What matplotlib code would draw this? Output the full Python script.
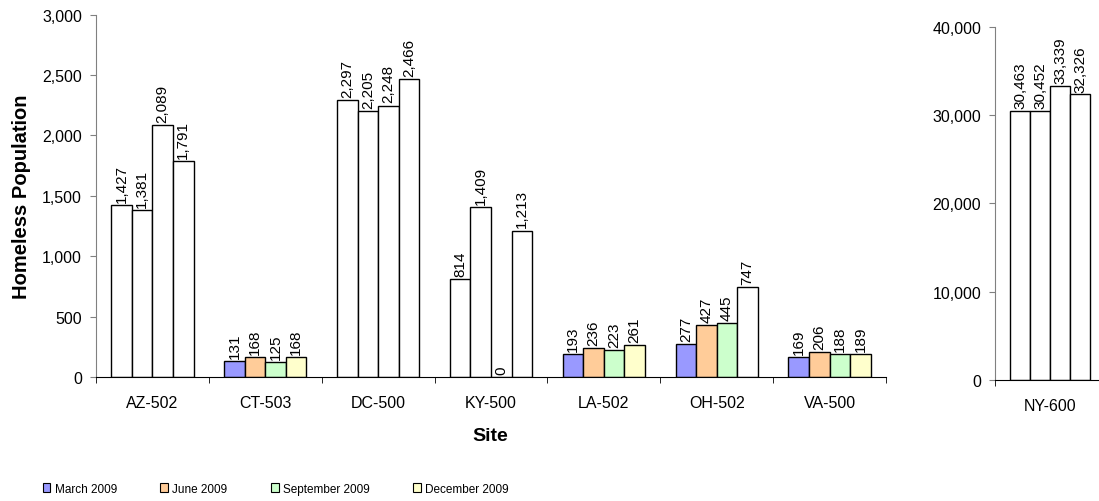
import matplotlib.pyplot as plt
import numpy as np
from matplotlib.patches import Patch
from matplotlib.ticker import FuncFormatter, FixedLocator

plt.rcParams['font.family'] = ['Liberation Sans', 'DejaVu Sans']

# Homeless counts per site and quarter
sites = ['AZ-502', 'CT-503', 'DC-500', 'KY-500', 'LA-502', 'OH-502', 'VA-500']
march = [1427, 131, 2297, 814, 193, 277, 169]
june = [1381, 168, 2205, 1409, 236, 427, 206]
september = [2089, 125, 2248, 0, 223, 445, 188]
december = [1791, 168, 2466, 1213, 261, 747, 189]

ny_site = 'NY-600'
ny_counts = [30463, 30452, 33339, 32326]

quarters = ['March 2009', 'June 2009', 'September 2009', 'December 2009']
colors = ['#9999FF', '#FFCC99', '#CCFFCC', '#FFFFCC']

# which bars get the quarter colour (the rest are drawn hollow)
shaded = {
    'CT-503': [1, 1, 1, 1],
    'LA-502': [1, 1, 1, 1],
    'OH-502': [1, 1, 1, 0],
    'VA-500': [1, 1, 1, 1],
}

W, H = 1099, 502
fig = plt.figure(figsize=(W / 100, H / 100), dpi=100)

ax = fig.add_axes([96 / W, (H - 378) / H, (886 - 96) / W, (378 - 15.7) / H])
ax2 = fig.add_axes([995 / W, (H - 381) / H, (W - 995) / W, (381 - 27.7) / H])

bw = 0.182
offsets = (np.arange(4) - 1.5) * bw
fmt = FuncFormatter(lambda v, p: '{:,.0f}'.format(v))
fs_tick = 11.5
fs_val = 11


def label_bar(a, x, v, step):
    a.text(x, v + step, '{:,}'.format(v), rotation=90, ha='center',
           va='bottom', fontsize=fs_val)


series = [march, june, september, december]
xs = np.arange(len(sites))
for q in range(4):
    for i, s in enumerate(sites):
        fc = colors[q] if shaded.get(s, [0] * 4)[q] else 'white'
        v = series[q][i]
        ax.bar(xs[i] + offsets[q], v, bw, color=fc, edgecolor='black',
               linewidth=1.0, zorder=2)
        label_bar(ax, xs[i] + offsets[q], v, 25)

ax.set_xlim(-0.5, len(sites) - 0.5)
ax.set_ylim(0, 3000)
ax.set_yticks(np.arange(0, 3001, 500))
ax.yaxis.set_major_formatter(fmt)

for q in range(4):
    v = ny_counts[q]
    ax2.bar(offsets[q], v, bw, color='white', edgecolor='black',
            linewidth=1.0, zorder=2)
    label_bar(ax2, offsets[q], v, 330)

span = (W - 995) / 110.0
ax2.set_xlim(-0.5, -0.5 + span)
ax2.set_ylim(0, 40000)
ax2.set_yticks(np.arange(0, 40001, 10000))
ax2.yaxis.set_major_formatter(fmt)

for a, names, n in [(ax, sites, len(sites)), (ax2, [ny_site], 1)]:
    for sp in ['top', 'right']:
        a.spines[sp].set_visible(False)
    a.spines['left'].set_color('#808080')
    a.spines['bottom'].set_color('black')
    a.set_xticks(np.arange(n))
    a.set_xticklabels(names)
    a.xaxis.set_minor_locator(FixedLocator(np.arange(n + 1) - 0.5))
    a.tick_params(axis='x', which='major', length=0, pad=13,
                  labelsize=fs_tick)
    a.tick_params(axis='x', which='minor', length=4, direction='out')
    a.tick_params(axis='y', length=4, direction='out', color='#808080',
                  pad=6, labelsize=fs_tick)

ax.set_ylabel('Homeless Population', fontsize=14.5, fontweight='bold',
              labelpad=8)
fig.text(490 / W, 1 - 437 / H, 'Site', fontsize=14, fontweight='bold',
         ha='center', va='center')

handles = [Patch(facecolor=c, edgecolor='black', linewidth=0.8)
           for c in colors]
fig.legend(handles, quarters, loc='center left', ncol=4,
           bbox_to_anchor=(38 / W, 1 - 490 / H), frameon=False,
           fontsize=8.5, handlelength=0.65, handleheight=0.8,
           handletextpad=0.35, columnspacing=3.7, borderaxespad=0)

fig.savefig('out.png', dpi=100)
